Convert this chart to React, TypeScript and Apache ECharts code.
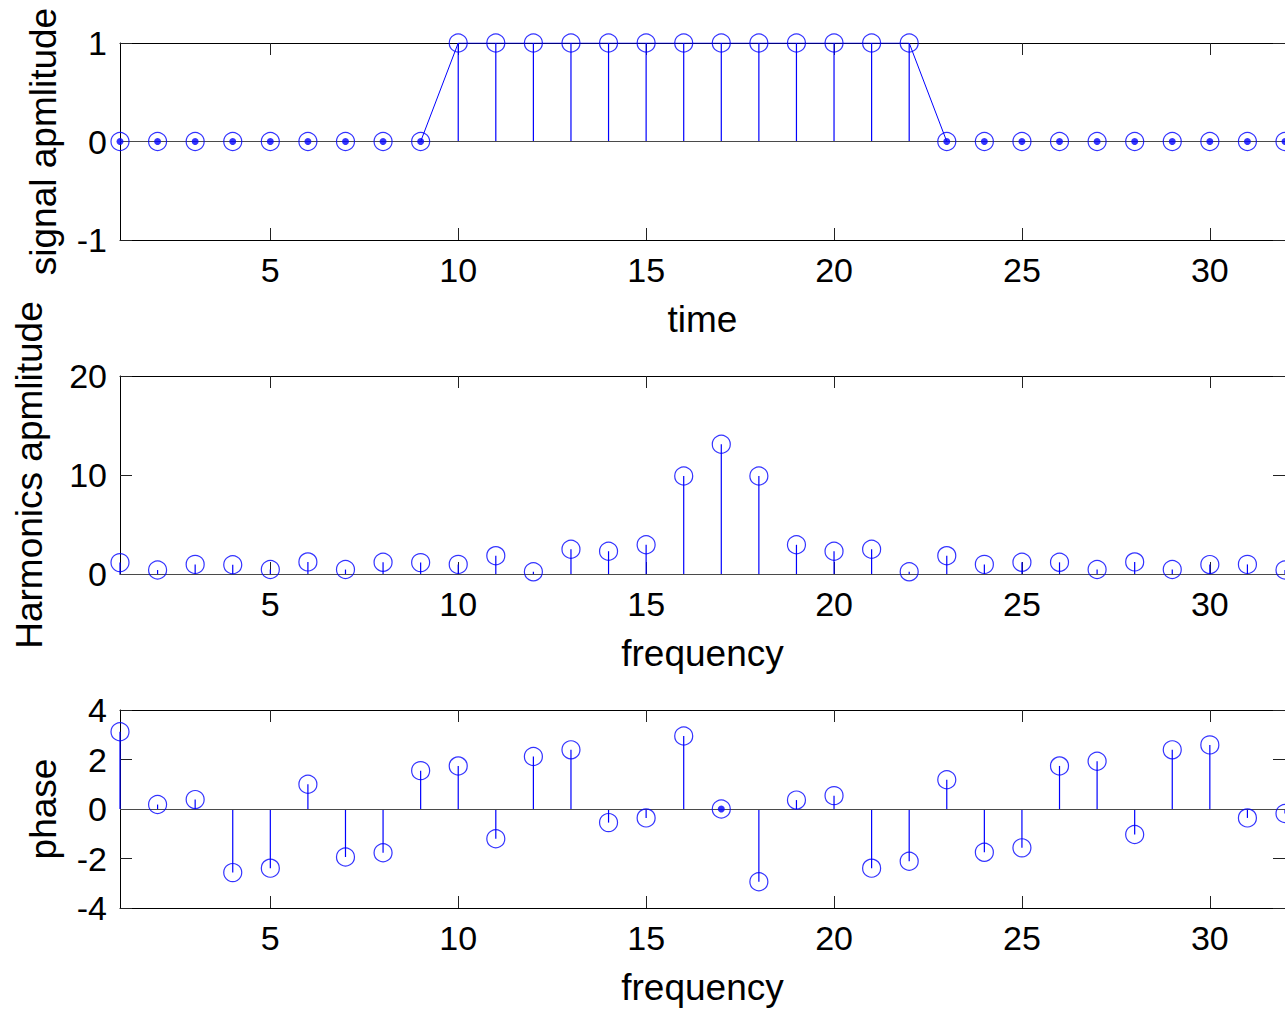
import React, { useEffect, useRef } from "react";
import * as echarts from "echarts";

// ---- data ----
const sampleIdx = [1, 2, 3, 4, 5, 6, 7, 8, 9, 10, 11, 12, 13, 14, 15, 16, 17, 18, 19, 20, 21, 22, 23, 24, 25, 26, 27, 28, 29, 30, 31, 32];
const signal = [0, 0, 0, 0, 0, 0, 0, 0, 0, 1, 1, 1, 1, 1, 1, 1, 1, 1, 1, 1, 1, 1, 0, 0, 0, 0, 0, 0, 0, 0, 0, 0];
const harmonics = [1.15, 0.4, 0.97, 0.93, 0.45, 1.22, 0.45, 1.18, 1.15, 0.97, 1.85, 0.22, 2.5, 2.3, 2.95, 9.9, 13.1, 9.9, 2.95, 2.3, 2.5, 0.22, 1.85, 0.97, 1.18, 1.18, 0.45, 1.22, 0.45, 0.95, 0.97, 0.4];
const phase = [3.12, 0.18, 0.38, -2.57, -2.39, 1.0, -1.94, -1.77, 1.55, 1.74, -1.2, 2.12, 2.39, -0.55, -0.36, 2.95, 0, -2.94, 0.36, 0.54, -2.39, -2.11, 1.18, -1.75, -1.57, 1.74, 1.93, -1.03, 2.39, 2.59, -0.36, -0.18];
const xTicks = [5, 10, 15, 20, 25, 30];

const panelTitles = ["signal apmlitude", "Harmonics apmlitude", "phase"];
const xTitles = ["time", "frequency", "frequency"];
const yRanges = [
  { min: -1, max: 1, interval: 1 },
  { min: 0, max: 20, interval: 10 },
  { min: -4, max: 4, interval: 2 },
];

const FONT = "'Liberation Sans', Arial, Helvetica, sans-serif";
const BLUE = "#0000ff";

const GRIDS = [
  { top: 43, height: 197, nameGap: 58 },
  { top: 376, height: 198, nameGap: 72 },
  { top: 710, height: 198, nameGap: 58 },
];

function buildOption() {
  const panels = [signal, harmonics, phase];
  const grid = GRIDS.map((g) => ({ left: 120, width: 1166, top: g.top, height: g.height }));
  const xAxis: any[] = [];
  const yAxis: any[] = [];
  const series: any[] = [];
  const axisLine = { show: true, onZero: false, lineStyle: { color: "#000", width: 1 } };
  const tick = { show: true, inside: true, length: 12, lineStyle: { color: "#222", width: 1 } };

  panels.forEach((vals, i) => {
    const r = yRanges[i];
    xAxis.push({
      type: "value", gridIndex: i, position: "bottom", min: 1, max: 32,
      axisLine, splitLine: { show: false },
      axisTick: { ...tick, customValues: xTicks },
      axisLabel: { customValues: xTicks, margin: 13, fontSize: 34, color: "#000", fontFamily: FONT },
      name: xTitles[i], nameLocation: "middle", nameGap: 61,
      nameTextStyle: { fontSize: 37, color: "#000", fontFamily: FONT },
    });
    xAxis.push({
      type: "value", gridIndex: i, position: "top", min: 1, max: 32,
      axisLine, splitLine: { show: false },
      axisTick: { ...tick, customValues: xTicks },
      axisLabel: { show: false },
    });
    yAxis.push({
      type: "value", gridIndex: i, position: "left", min: r.min, max: r.max, interval: r.interval,
      axisLine, splitLine: { show: false }, axisTick: tick,
      axisLabel: { margin: 13, fontSize: 34, color: "#000", fontFamily: FONT },
      name: panelTitles[i], nameLocation: "middle", nameRotate: 90, nameGap: GRIDS[i].nameGap,
      nameTextStyle: { fontSize: 37, color: "#000", fontFamily: FONT },
    });
    yAxis.push({
      type: "value", gridIndex: i, position: "right", min: r.min, max: r.max, interval: r.interval,
      axisLine, splitLine: { show: false }, axisTick: tick, axisLabel: { show: false },
    });

    const pts = sampleIdx.map((x, k) => [x, vals[k]]);
    const xi = 2 * i;
    const yi = 2 * i;

    // baseline
    series.push({
      type: "scatter", xAxisIndex: xi, yAxisIndex: yi, data: [], silent: true, z: 1,
      markLine: {
        silent: true, symbol: ["none", "none"], label: { show: false },
        lineStyle: { color: "#4a4a4a", width: 1, type: "solid" },
        data: [{ yAxis: 0 }],
      },
    });
    if (i === 0) {
      series.push({
        type: "line", xAxisIndex: xi, yAxisIndex: yi, data: pts, symbol: "none",
        lineStyle: { color: BLUE, width: 1 }, z: 3, silent: true,
      });
    }
    // stems
    series.push({
      type: "custom", xAxisIndex: xi, yAxisIndex: yi, data: pts, silent: true, z: 4,
      renderItem: (_p: any, api: any) => {
        const x = api.value(0);
        const y = api.value(1);
        const p0 = api.coord([x, 0]);
        const p1 = api.coord([x, y]);
        return {
          type: "line",
          shape: { x1: p0[0], y1: p0[1], x2: p1[0], y2: p1[1] },
          style: { stroke: BLUE, lineWidth: 1.2 },
        };
      },
    });
    // open circle markers
    series.push({
      type: "scatter", xAxisIndex: xi, yAxisIndex: yi, data: pts, symbol: "circle", symbolSize: 18,
      itemStyle: { color: "rgba(0,0,0,0)", borderColor: BLUE, borderWidth: 1.2 }, z: 5, silent: true, clip: false,
    });
    // dots for zero-length stems
    series.push({
      type: "scatter", xAxisIndex: xi, yAxisIndex: yi, data: pts.filter((p) => p[1] === 0),
      symbol: "circle", symbolSize: 7, itemStyle: { color: BLUE }, z: 6, silent: true,
    });
  });

  return {
    animation: false,
    backgroundColor: "#ffffff",
    textStyle: { fontFamily: FONT },
    grid, xAxis, yAxis, series,
  };
}

export default function App() {
  const ref = useRef<HTMLDivElement>(null);
  useEffect(() => {
    if (!ref.current) return;
    const chart = echarts.init(ref.current, undefined, { renderer: "svg" });
    chart.setOption(buildOption() as any);
    return () => chart.dispose();
  }, []);
  return (
    <div
      ref={ref}
      style={{ position: "absolute", left: 0, top: 0, width: 1285, height: 1010, background: "#fff" }}
    />
  );
}
